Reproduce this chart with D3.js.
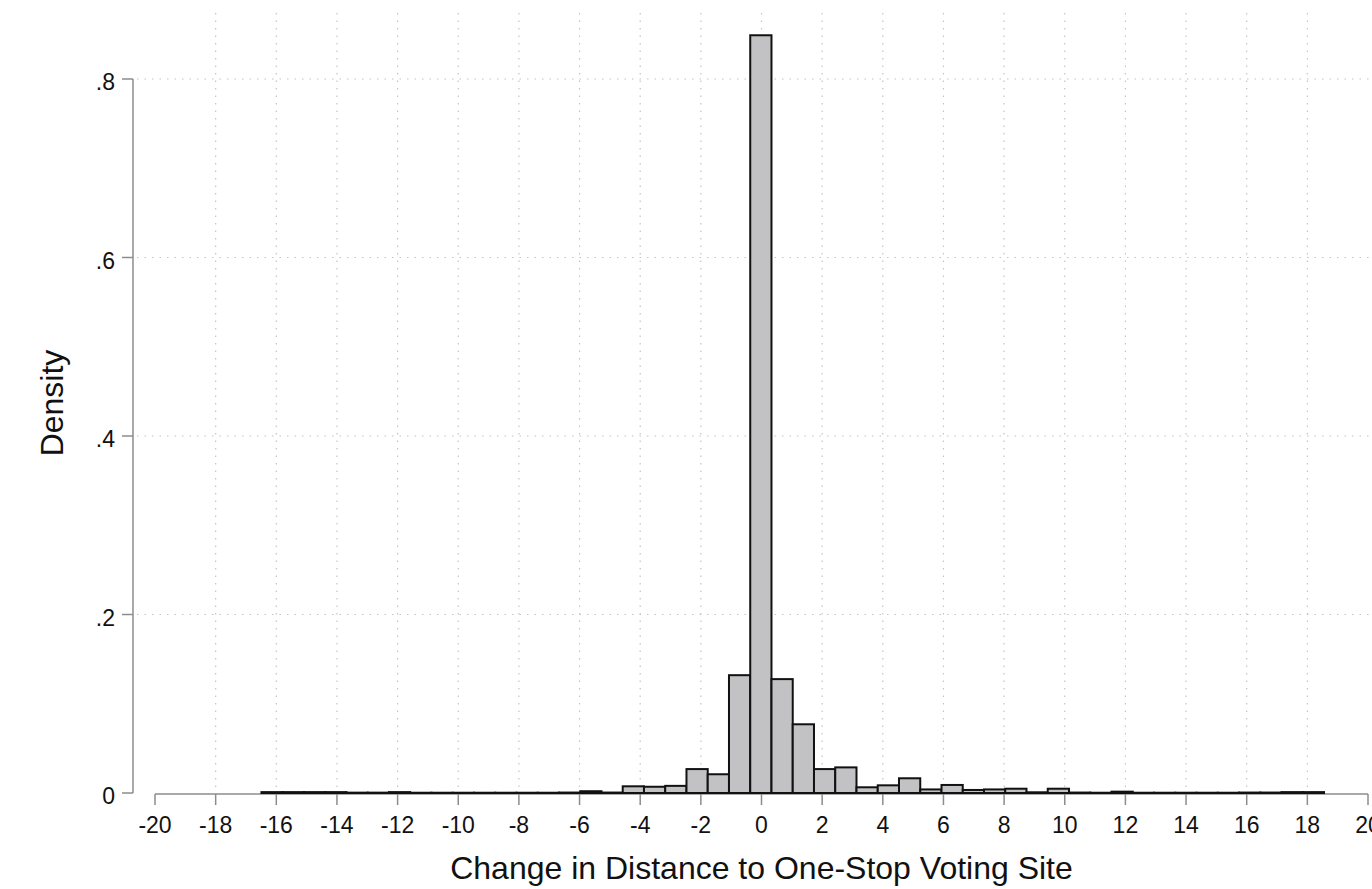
<!DOCTYPE html>
<html>
<head>
<meta charset="utf-8">
<script src="https://cdn.jsdelivr.net/npm/d3@7"></script>
<style>
  body { margin: 0; background: #fff; }
  svg { display: block; font-family: "Liberation Sans", Arial, sans-serif; }
</style>
</head>
<body>
<svg id="chart" width="1372" height="889"></svg>
<script>
// histogram bins: 50 equal bins starting at binStart
const binStart = -16.49;
const binWidth = 0.7008;
const densities = [
    0.001, 0.001, 0.001, 0.001, 0.0004, 0.0004, 0.001, 0.0003, 0.0003, 0.0003,
    0.0003, 0.0003, 0.0003, 0.0003, 0.0005, 0.002, 0.0005, 0.0075, 0.007, 0.008,
    0.0268, 0.021, 0.132, 0.849, 0.1276, 0.077, 0.0268, 0.0287, 0.0064, 0.0086,
    0.0165, 0.004, 0.009, 0.0034, 0.004, 0.0048, 0.0008, 0.0048, 0.0005, 0.0003,
    0.0015, 0.0003, 0.0003, 0.0003, 0.0003, 0.0003, 0.0005, 0.0005, 0.001, 0.001
];
const xTicks = d3.range(-20, 21, 2);
const yTicks = [0, 0.2, 0.4, 0.6, 0.8];
const xTitle = "Change in Distance to One-Stop Voting Site";
const yTitle = "Density";

const svg = d3.select('#chart');

const x = d3.scaleLinear().domain([-20, 20]).range([155, 1368]);
const y = d3.scaleLinear().domain([0, 0.8]).range([793, 79]);

// gridlines (dotted)
const grid = svg.append('g').attr('class', 'grid')
    .attr('stroke', '#c4c4c4')
    .attr('stroke-width', 1.2)
    .attr('stroke-dasharray', '1.5,6');

grid.selectAll('.hgrid')
    .data(yTicks.filter(d => d > 0))
    .enter().append('line')
    .attr('x1', 137).attr('x2', 1372)
    .attr('y1', d => y(d)).attr('y2', d => y(d));

grid.selectAll('.vgrid')
    .data(xTicks.filter(d => d > -20 && d < 20))
    .enter().append('line')
    .attr('x1', d => x(d)).attr('x2', d => x(d))
    .attr('y1', 13).attr('y2', 793);

// x axis
const xAxis = svg.append('g').attr('transform', `translate(0,${y(0) + 1})`);
xAxis.append('line')
    .attr('x1', x(-20)).attr('x2', x(20))
    .attr('stroke', '#8c8c8c').attr('stroke-width', 1.5);
xAxis.selectAll('.tick')
    .data(xTicks)
    .enter().append('line')
    .attr('x1', d => x(d)).attr('x2', d => x(d))
    .attr('y1', 0).attr('y2', 11)
    .attr('stroke', '#8c8c8c').attr('stroke-width', 1.5);
xAxis.selectAll('.lbl')
    .data(xTicks)
    .enter().append('text')
    .attr('x', d => x(d))
    .attr('y', 39)
    .attr('text-anchor', 'middle')
    .attr('font-size', 23)
    .attr('fill', '#111')
    .text(d => d);

// y axis
const yAxis = svg.append('g');
yAxis.append('line')
    .attr('x1', 133).attr('x2', 133)
    .attr('y1', y(0.8)).attr('y2', y(0))
    .attr('stroke', '#8c8c8c').attr('stroke-width', 1.5);
yAxis.selectAll('.tick')
    .data(yTicks)
    .enter().append('line')
    .attr('x1', 122).attr('x2', 133)
    .attr('y1', d => y(d)).attr('y2', d => y(d))
    .attr('stroke', '#8c8c8c').attr('stroke-width', 1.5);
yAxis.selectAll('.lbl')
    .data(yTicks)
    .enter().append('text')
    .attr('x', 115)
    .attr('y', d => y(d) + 11)
    .attr('text-anchor', 'end')
    .attr('font-size', 23)
    .attr('fill', '#111')
    .text(d => d === 0 ? '0' : d3.format('.1f')(d).replace(/^0/, ''));

// bars
svg.append('g').selectAll('rect')
    .data(densities)
    .enter().append('rect')
    .attr('x', (d, i) => x(binStart + i * binWidth))
    .attr('width', x(binWidth) - x(0))
    .attr('y', d => y(d))
    .attr('height', d => y(0) - y(d))
    .attr('fill', '#c2c2c4')
    .attr('stroke', '#111')
    .attr('stroke-width', 2);

// axis titles
svg.append('text')
    .attr('x', x(0))
    .attr('y', 879)
    .attr('text-anchor', 'middle')
    .attr('font-size', 32)
    .attr('fill', '#111')
    .text(xTitle);

svg.append('text')
    .attr('transform', 'translate(63,403) rotate(-90)')
    .attr('text-anchor', 'middle')
    .attr('font-size', 32)
    .attr('fill', '#111')
    .text(yTitle);
</script>
</body>
</html>
